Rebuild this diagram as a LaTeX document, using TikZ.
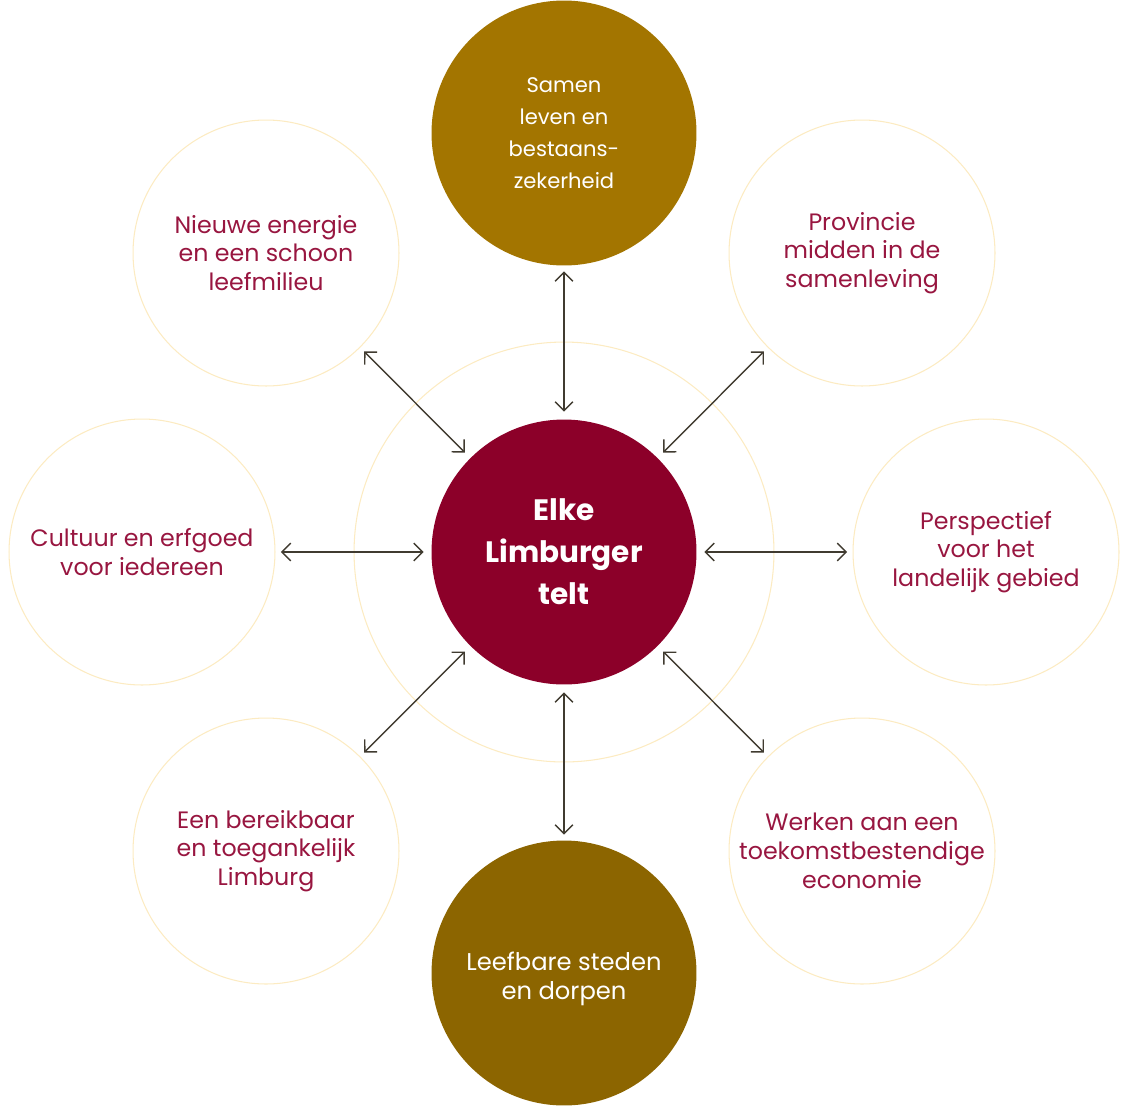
\documentclass[tikz,border=0pt]{standalone}
\usepackage{fontspec}
\setmainfont{Poppins}
\usetikzlibrary{arrows.meta}
\definecolor{wijnrood}{HTML}{8C0029}
\definecolor{tekstrood}{HTML}{981640}
\definecolor{goud}{HTML}{A37500}
\definecolor{donkergoud}{HTML}{8C6500}
\definecolor{lichtgeel}{HTML}{FCEBC2}
\definecolor{pijlkleur}{HTML}{403B30}
\tikzset{
  thema/.style={circle, draw=lichtgeel, line width=0.6pt, minimum size=5.32cm, inner sep=0pt, outer sep=0pt,
    align=center, text=tekstrood, font=\fontsize{13.5}{16.4}\selectfont},
  vol/.style={circle, minimum size=5.3cm, inner sep=0pt, outer sep=0pt, align=center, text=white},
  pijl/.style={{Straight Barb[length=5pt,width=10pt]}-{Straight Barb[length=5pt,width=10pt]},
    draw=pijlkleur, line width=0.8pt, shorten <=0.12cm, shorten >=0.16cm}
}
\begin{document}
\begin{tikzpicture}[x=0.02cm,y=-0.02cm]
        \useasboundingbox (0,0) rectangle (1128,1109);
        % ring rond het midden
        \draw[lichtgeel, line width=0.6pt] (564,552) circle[radius=4.2cm];
        \node[vol, fill=wijnrood, font=\bfseries\fontsize{16.8}{24}\selectfont] (midden) at (564,552) {Elke\\Limburger\\telt};
        \node[vol, fill=goud, font=\fontsize{12}{18.1}\selectfont] (boven) at (564,133) {Samen\\leven en\\bestaans-\\zekerheid};
        \node[vol, fill=donkergoud] (onder) at (564,973) {};
        \node[text=white, align=center, font=\fontsize{13.8}{16.4}\selectfont] (ondertekst) at ([yshift=-0.12cm]onder.center) {Leefbare steden\\en dorpen};
        \node[thema] (linksboven) at (266,253) {Nieuwe energie\\en een schoon\\leefmilieu};
        \node[thema] (rechtsboven) at (862,253) {Provincie\\midden in de\\samenleving};
        \node[thema] (links) at (142,552) {Cultuur en erfgoed\\voor iedereen};
        \node[thema] (rechts) at (986,552) {Perspectief\\voor het\\landelijk gebied};
        \node[thema] (linksonder) at (266,851) {Een bereikbaar\\en toegankelijk\\Limburg};
        \node[thema] (rechtsonder) at (862,851) {Werken aan een\\toekomstbestendige\\economie};
        % pijlen naar het midden
        \foreach \n in {boven,onder,linksboven,rechtsboven,links,rechts,linksonder,rechtsonder}
            \draw[pijl] (\n) -- (midden);
    \end{tikzpicture}
\end{document}
